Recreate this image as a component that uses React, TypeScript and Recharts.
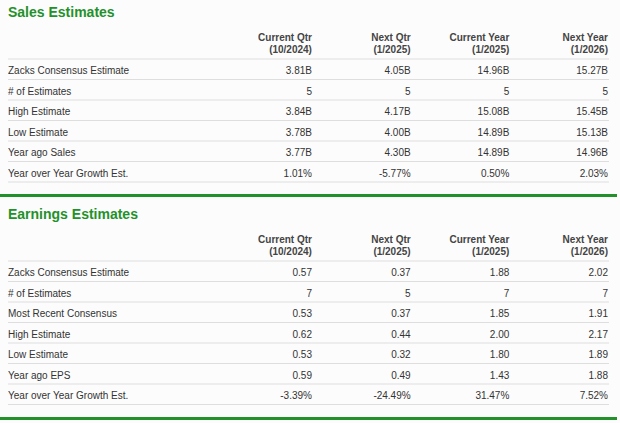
import { ScatterChart, Scatter, XAxis, YAxis, ReferenceLine } from "recharts";

const periodNames = ["Current Qtr", "Next Qtr", "Current Year", "Next Year"];
const periodDates = ["(10/2024)", "(1/2025)", "(1/2025)", "(1/2026)"];

const salesRows = [
  "Zacks Consensus Estimate",
  "# of Estimates",
  "High Estimate",
  "Low Estimate",
  "Year ago Sales",
  "Year over Year Growth Est.",
];
const salesConsensus = ["3.81B", "4.05B", "14.96B", "15.27B"];
const salesCount = ["5", "5", "5", "5"];
const salesHigh = ["3.84B", "4.17B", "15.08B", "15.45B"];
const salesLow = ["3.78B", "4.00B", "14.89B", "15.13B"];
const salesYearAgo = ["3.77B", "4.30B", "14.89B", "14.96B"];
const salesGrowth = ["1.01%", "-5.77%", "0.50%", "2.03%"];

const earningsRows = [
  "Zacks Consensus Estimate",
  "# of Estimates",
  "Most Recent Consensus",
  "High Estimate",
  "Low Estimate",
  "Year ago EPS",
  "Year over Year Growth Est.",
];
const earningsConsensus = ["0.57", "0.37", "1.88", "2.02"];
const earningsCount = ["7", "5", "7", "7"];
const earningsRecent = ["0.53", "0.37", "1.85", "1.91"];
const earningsHigh = ["0.62", "0.44", "2.00", "2.17"];
const earningsLow = ["0.53", "0.32", "1.80", "1.89"];
const earningsYearAgo = ["0.59", "0.49", "1.43", "1.88"];
const earningsGrowth = ["-3.39%", "-24.49%", "31.47%", "7.52%"];

const FONT = "'Liberation Sans', Arial, sans-serif";
const GREEN = "#23912a";
const ROW_H = 20.5;

interface TableProps {
  title: string;
  rows: string[];
  values: string[][];
  top: number;
}

function EstimateTable({ title, rows, values, top }: TableProps) {
  const cells = values.flatMap((vals, r) =>
    vals.map((text, c) => ({ col: c + 1, row: r, text }))
  );
  const height = 59 + rows.length * ROW_H + 4;
  const separators = Array.from({ length: rows.length + 1 }, (_, i) => i - 0.5);

  return (
    <div style={{ position: "absolute", left: 0, top, width: 620, height }}>
      <div
        style={{
          position: "absolute",
          left: 8,
          top: 4,
          fontSize: 14,
          lineHeight: "16px",
          fontWeight: "bold",
          color: GREEN,
          fontFamily: FONT,
        }}
      >
        {title}
      </div>
      <ScatterChart
        width={620}
        height={height}
        margin={{ top: 29, right: 11, bottom: 4, left: 8 }}
      >
        <XAxis
          type="number"
          dataKey="col"
          orientation="top"
          height={30}
          domain={[-2.08, 4.01]}
          ticks={[1, 2, 3, 4]}
          interval={0}
          axisLine={false}
          tickLine={false}
          tickSize={0}
          tickMargin={0}
          tick={({ x, y, payload }: any) => (
            <g fontFamily={FONT} fontSize={10} fontWeight="bold" fill="#444">
              <text x={x} y={y - 18} textAnchor="end">
                {periodNames[payload.value - 1]}
              </text>
              <text x={x} y={y - 6} textAnchor="end">
                {periodDates[payload.value - 1]}
              </text>
            </g>
          )}
        />
        <YAxis
          type="number"
          dataKey="row"
          reversed
          mirror
          domain={[-0.5, rows.length - 0.5]}
          ticks={rows.map((_, i) => i)}
          interval={0}
          axisLine={false}
          tickLine={false}
          tickSize={0}
          tickMargin={0}
          tick={({ x, y, payload }: any) => (
            <text
              x={x}
              y={y}
              dy={5}
              textAnchor="start"
              fontFamily={FONT}
              fontSize={10}
              fill="#333"
            >
              {rows[payload.value]}
            </text>
          )}
        />
        {separators.map((s) => (
          <ReferenceLine key={s} y={s} stroke="#dedede" strokeWidth={1} />
        ))}
        <Scatter
          data={cells}
          isAnimationActive={false}
          shape={(p: any) => (
            <text
              x={p.cx}
              y={p.cy}
              dy={5}
              textAnchor="end"
              fontFamily={FONT}
              fontSize={10}
              fill="#333"
            >
              {p.payload.text}
            </text>
          )}
        />
      </ScatterChart>
    </div>
  );
}

export default function App() {
  return (
    <div
      style={{
        position: "relative",
        width: 620,
        height: 423,
        background: "#fcfcfc",
        overflow: "hidden",
      }}
    >
      <style>{`body{margin:0}`}</style>
      <EstimateTable
        title="Sales Estimates"
        rows={salesRows}
        values={[salesConsensus, salesCount, salesHigh, salesLow, salesYearAgo, salesGrowth]}
        top={0}
      />
      <div
        style={{ position: "absolute", left: 0, top: 194, width: 617, height: 2.5, background: GREEN }}
      />
      <EstimateTable
        title="Earnings Estimates"
        rows={earningsRows}
        values={[
          earningsConsensus,
          earningsCount,
          earningsRecent,
          earningsHigh,
          earningsLow,
          earningsYearAgo,
          earningsGrowth,
        ]}
        top={202}
      />
      <div
        style={{ position: "absolute", left: 0, top: 417, width: 617, height: 2.5, background: GREEN }}
      />
    </div>
  );
}
